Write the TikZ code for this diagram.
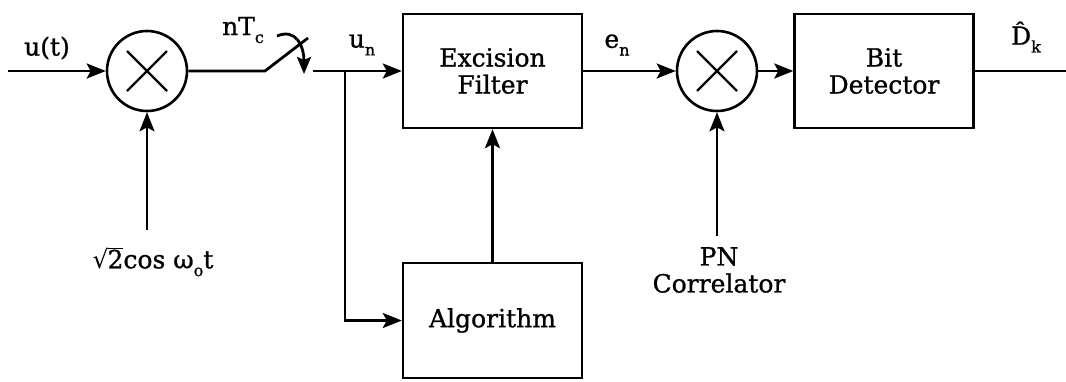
\documentclass[tikz,border=0pt]{standalone}
\usepackage{fontspec}
\setmainfont[RawFeature={embolden=1.0}]{DejaVu Serif}
\newfontfamily\symfont{DejaVu Sans}
\usetikzlibrary{arrows.meta}
% small lowered index in text font
\newcommand\lowidx[1]{\raisebox{-0.6ex}{\fontsize{16}{16}\selectfont #1}}

\begin{document}
\begin{tikzpicture}[x=1pt,y=-1pt,
  every node/.style={font=\fontsize{25}{27}\selectfont},
  wire/.style={line width=2.8pt},
  sig/.style={wire,-{Stealth[length=19pt,width=15pt,inset=4pt]}},
  block/.style={draw,line width=2.4pt,minimum width=179pt,minimum height=114pt,
    align=center,inner sep=0pt},
  mixer/.style={draw,circle,line width=2.6pt,minimum size=80pt,inner sep=0pt,
    path picture={
      \draw[line width=2.4pt]
        ([shift={(-20pt,-20pt)}]path picture bounding box.center) --
        ([shift={(20pt,20pt)}]path picture bounding box.center);
      \draw[line width=2.4pt]
        ([shift={(-20pt,20pt)}]path picture bounding box.center) --
        ([shift={(20pt,-20pt)}]path picture bounding box.center);}},
  lbl/.style={inner sep=0pt,align=center}]

\useasboundingbox (0,0) rectangle (1066,381);

% points on the wires
\coordinate (in) at (8,71);
\coordinate (osc) at (147,230);
\coordinate (s0) at (265,71);
\coordinate (s1) at (308,38);
\coordinate (s2) at (313,71);
\coordinate (br) at (345,71);
\coordinate (c0) at (277,36);
\coordinate (c1) at (304,74);
\coordinate (pn) at (717,236);
\coordinate (out) at (1066,71);

% blocks and mixers
\node[mixer] (m1) at (147,71) {};
\node[block] (ef) at (492.5,71) {Excision\\Filter};
\node[block,minimum height=115pt] (alg) at (492.5,320.5) {Algorithm};
\node[mixer] (m2) at (717,71) {};
\node[block] (bd) at (884,71) {Bit\\Detector};

% labels
\node[lbl] (ut) at (47,48) {u(t)};
\node[lbl] (osclbl) at (153,262) {{\symfont √}\kern-1pt$\overline{\mbox{2}}$cos ω\lowidx{o}t};
\node[lbl] (ntc) at (243,30) {nT\lowidx{c}};
\node[lbl] (un) at (362,45) {u\lowidx{n}};
\node[lbl] (en) at (617,45) {e\lowidx{n}};
\node[lbl] (pnlbl) at (719,270) {PN\\Correlator};
\node[lbl] (dk) at (1026,37) {\^{D}\lowidx{k}};

% connections
\draw[sig] (in) -- (m1);
\draw[sig] (osc) -- (m1);
\draw[wire] (m1) -- (s0) -- (s1);
\draw[wire,-{Stealth[length=17pt,width=14pt,inset=3pt]}]
  (c0) .. controls (296,28) and (304,46) .. (c1);
\draw[sig] (s2) -- (ef);
\draw[sig] (br) |- (alg.west);
\draw[sig] (alg) -- (ef);
\draw[sig] (ef) -- (m2);
\draw[sig] (pn) -- (m2);
\draw[sig] (m2) -- (bd);
\draw[wire] (bd) -- (out);
\end{tikzpicture}
\end{document}
